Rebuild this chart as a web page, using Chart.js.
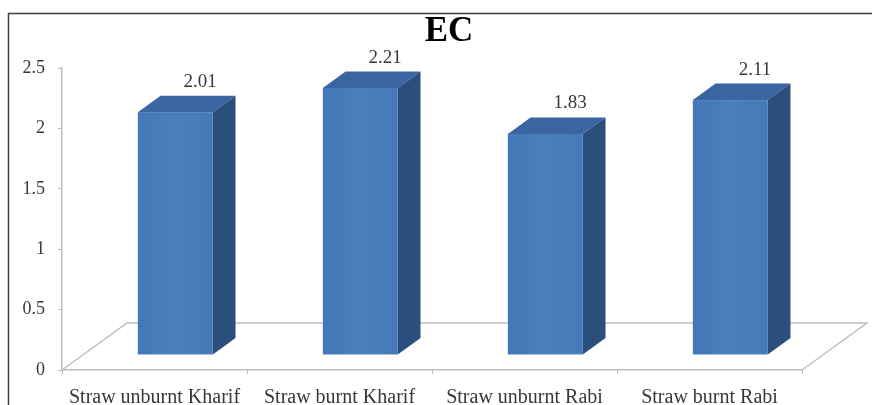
<!DOCTYPE html>
<html>
<head>
<meta charset="utf-8">
<script src="https://cdn.jsdelivr.net/npm/chart.js@4/dist/chart.umd.min.js"></script>
<style>
  html, body { margin: 0; padding: 0; background: #ffffff; }
  canvas { display: block; }
</style>
</head>
<body>
<canvas id="ec" width="872" height="405"></canvas>
<script>
// EC by straw treatment and season
const chartTitle = 'EC';
const categories = ['Straw unburnt Kharif', 'Straw burnt Kharif', 'Straw unburnt Rabi', 'Straw burnt Rabi'];
const ecValues = [2.01, 2.21, 1.83, 2.11];
const yTicks = [0, 0.5, 1, 1.5, 2, 2.5];

const SERIF = '"Liberation Serif", "Times New Roman", serif';
const TEXT_COLOR = '#383838';
const GRID_COLOR = '#bdbdbd';

// 3D look: floor depth in px and where the bar sits within that depth
const FLOOR_DX = 65, FLOOR_DY = -47;
const BAR_FRONT = 0.32, BAR_BACK = 0.67;

const faceColors = { front: '#4a7ebc', top: '#3a65a0', side: '#2c4e7c' };

const boxPlugin = {
  id: 'box3d',
  beforeDraw(chart) {
    const ctx = chart.ctx;
    ctx.save();
    ctx.strokeStyle = '#3f3f3f';
    ctx.lineWidth = 1.5;
    ctx.beginPath();
    ctx.moveTo(8.5, 405);
    ctx.lineTo(8.5, 13.5);
    ctx.lineTo(872, 13.5);
    ctx.stroke();
    ctx.restore();
  },
  beforeDatasetsDraw(chart) {
    const { ctx, scales: { x, y } } = chart;
    const y0 = y.getPixelForValue(0);
    const l = x.left, r = x.right;
    ctx.save();
    ctx.strokeStyle = GRID_COLOR;
    ctx.lineWidth = 1.5;
    ctx.beginPath();
    ctx.moveTo(l, y0);
    ctx.lineTo(l + FLOOR_DX, y0 + FLOOR_DY);
    ctx.lineTo(r + FLOOR_DX, y0 + FLOOR_DY);
    ctx.lineTo(r, y0);
    ctx.stroke();
    ctx.restore();
  },
  afterDatasetsDraw(chart) {
    const { ctx } = chart;
    const meta = chart.getDatasetMeta(0);
    const fx = FLOOR_DX * BAR_FRONT, fy = FLOOR_DY * BAR_FRONT;
    const bx = FLOOR_DX * BAR_BACK, by = FLOOR_DY * BAR_BACK;
    const ddx = bx - fx, ddy = by - fy;
    ctx.save();
    meta.data.forEach((bar, i) => {
      const w = bar.width;
      const L = bar.x - w / 2 + fx, R = bar.x + w / 2 + fx;
      const T = bar.y + fy, B = bar.base + fy;

      // top face
      ctx.fillStyle = faceColors.top;
      ctx.beginPath();
      ctx.moveTo(L, T);
      ctx.lineTo(L + ddx, T + ddy);
      ctx.lineTo(R + ddx, T + ddy);
      ctx.lineTo(R, T);
      ctx.closePath();
      ctx.fill();

      // side face
      ctx.fillStyle = faceColors.side;
      ctx.beginPath();
      ctx.moveTo(R, T);
      ctx.lineTo(R + ddx, T + ddy);
      ctx.lineTo(R + ddx, B + ddy);
      ctx.lineTo(R, B);
      ctx.closePath();
      ctx.fill();

      // front face with a soft horizontal shading
      const g = ctx.createLinearGradient(L, 0, R, 0);
      g.addColorStop(0, '#4377b5');
      g.addColorStop(0.5, faceColors.front);
      g.addColorStop(1, '#4679b7');
      ctx.fillStyle = g;
      ctx.fillRect(L, T, R - L, B - T);

      // value label above the bar
      ctx.fillStyle = TEXT_COLOR;
      ctx.font = '19px ' + SERIF;
      ctx.textAlign = 'center';
      ctx.textBaseline = 'middle';
      ctx.fillText(ecValues[i].toFixed(2), bar.x + bx + 2, T + ddy - 14);
    });
    ctx.restore();
  },
  afterDraw(chart) {
    const ctx = chart.ctx;
    ctx.save();
    ctx.fillStyle = '#000000';
    ctx.font = 'bold 35px ' + SERIF;
    ctx.textAlign = 'center';
    ctx.textBaseline = 'middle';
    ctx.fillText(chartTitle, 449, 32);
    ctx.restore();
  }
};

new Chart(document.getElementById('ec'), {
  type: 'bar',
  data: {
    labels: categories,
    datasets: [{
      label: chartTitle,
      data: ecValues,
      backgroundColor: 'rgba(0,0,0,0)',
      borderWidth: 0,
      categoryPercentage: 1,
      barPercentage: 0.405
    }]
  },
  options: {
    responsive: false,
    animation: false,
    devicePixelRatio: 1,
    layout: { padding: { top: 68, right: 70, bottom: 0, left: 0 } },
    plugins: {
      legend: { display: false },
      title: { display: false },
      tooltip: { enabled: false }
    },
    scales: {
      x: {
        grid: { display: true, drawOnChartArea: false, drawTicks: true, tickLength: 4, color: GRID_COLOR, offset: true },
        border: { display: true, color: GRID_COLOR, width: 1.5 },
        ticks: { color: TEXT_COLOR, font: { family: SERIF, size: 20 }, padding: 12, maxRotation: 0, autoSkip: false },
        afterFit(s) { s.height = 35; }
      },
      y: {
        min: 0,
        max: 2.5,
        grid: { display: true, drawOnChartArea: false, drawTicks: true, tickLength: 4, color: GRID_COLOR },
        border: { display: true, color: GRID_COLOR, width: 1.5 },
        ticks: { color: TEXT_COLOR, font: { family: SERIF, size: 18 }, padding: 13, callback: v => String(v) },
        afterBuildTicks(s) { s.ticks = yTicks.map(v => ({ value: v })); },
        afterFit(s) { s.width = 62; }
      }
    }
  },
  plugins: [boxPlugin]
});
</script>
</body>
</html>
